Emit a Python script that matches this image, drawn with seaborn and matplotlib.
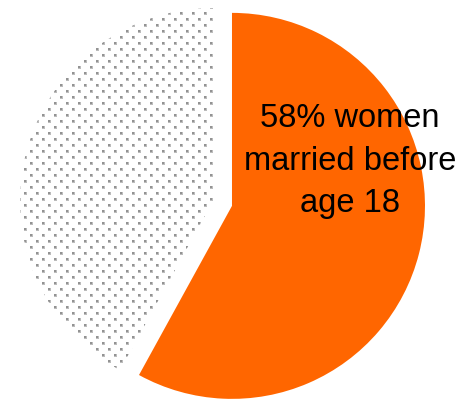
import numpy as np
import matplotlib
matplotlib.use("Agg")
import matplotlib.pyplot as plt
import seaborn as sns

# Share of women married before age 18
groups = ["Married before age 18", "Not married before age 18"]
shares = [58, 42]
slice_colors = ["#FF6600", "white"]
label_text = "58% women\nmarried before\nage 18"

sns.set_theme(style="white")
plt.rcParams["font.family"] = ["Liberation Sans", "DejaVu Sans"]

W, H = 462, 400
fig = plt.figure(figsize=(W / 100, H / 100), dpi=100)
ax = fig.add_axes([0, 0, 1, 1])

radius = 193
center = (213, 199)
wedges, _ = ax.pie(
    shares,
    colors=slice_colors,
    startangle=90,
    counterclock=False,
    explode=[19.6, 0],
    radius=radius,
    center=center,
    wedgeprops=dict(linewidth=0),
)

# Dotted fill for the remaining slice: staggered grid of small grey squares
tex = np.zeros((H, W, 4))
rows = np.arange(H)[:, None]
cols = np.arange(W)[None, :]
shift = 6 * ((rows // 6) % 2)
rr = rows % 6
cc = (cols - shift) % 12
core = (rr < 2) & (cc < 2)
halo = ((rr < 3) & (cc < 3)) & ~core
tex[..., :3] = 1.0
tex[..., 3] = 1.0
tex[halo, :3] = 0.74
tex[core, :3] = 0.58
img = ax.imshow(tex, extent=(0, W, 0, H), origin="upper",
                interpolation="nearest", zorder=3)
img.set_clip_path(wedges[1])

ax.text(350, H - 161, label_text, ha="center", va="center",
        fontsize=23.5, linespacing=1.46, color="black", zorder=5)

ax.set_xlim(0, W)
ax.set_ylim(0, H)
ax.set_aspect("auto")
ax.set_axis_off()

fig.savefig("out.png", dpi=100, facecolor="white")
